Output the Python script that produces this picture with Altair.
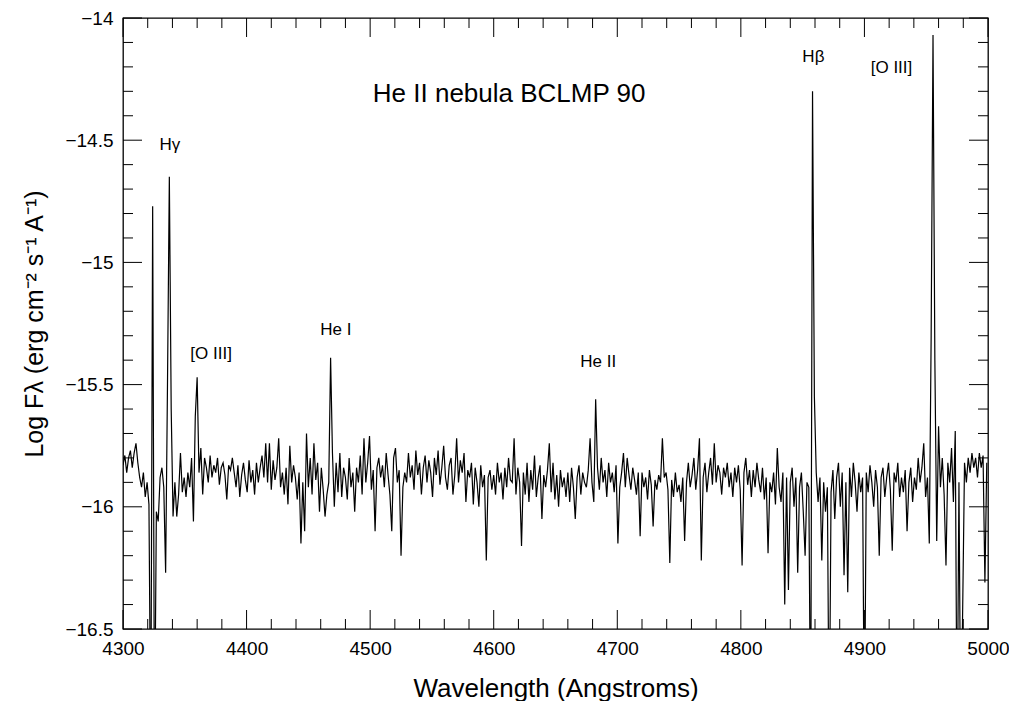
import altair as alt
import pandas as pd

WAVE_START = 4300.0
WAVE_STEP = 1.5
FLUX = [
    -15.83, -15.79, -15.86, -15.80, -15.77, -15.84, -15.78, -15.74, -15.82, -15.88,
    -15.92, -15.86, -15.96, -15.90, -15.99, -17.00, -14.77, -17.00, -16.02, -16.06,
    -15.88, -15.84, -15.92, -16.27, -15.50, -14.65, -15.60, -16.04, -15.90, -16.04,
    -15.95, -15.78, -15.94, -15.88, -15.96, -15.86, -15.92, -15.80, -16.06, -15.63,
    -15.47, -15.86, -15.76, -15.95, -15.80, -15.84, -15.90, -15.79, -15.88, -15.83,
    -15.86, -15.80, -15.91, -15.84, -15.82, -15.87, -15.97, -15.83, -15.85, -15.80,
    -15.86, -15.92, -15.83, -15.96, -15.87, -15.82, -15.89, -15.94, -15.81, -15.90,
    -15.85, -15.95, -15.82, -15.90, -15.84, -15.79, -15.88, -15.74, -15.90, -15.74,
    -15.93, -15.81, -15.89, -15.84, -15.72, -15.92, -15.86, -15.95, -15.84, -15.99,
    -15.75, -15.90, -15.83, -15.88, -15.97, -15.86, -16.15, -15.90, -16.10, -15.70,
    -15.92, -15.80, -15.95, -15.74, -15.89, -15.82, -16.02, -15.84, -15.93, -16.04,
    -15.95, -15.90, -15.39, -15.78, -16.00, -15.82, -15.94, -15.78, -15.96, -15.84,
    -15.88, -15.97, -15.80, -15.92, -15.86, -16.02, -15.84, -15.90, -15.79, -15.95,
    -15.72, -15.90, -15.82, -15.71, -15.93, -15.85, -16.10, -15.84, -15.80, -15.88,
    -15.83, -15.92, -15.78, -15.87, -15.95, -16.10, -15.80, -15.76, -15.90, -15.85,
    -16.20, -15.92, -15.86, -15.90, -15.78, -15.88, -15.83, -15.93, -15.77, -15.87,
    -15.82, -15.95, -15.84, -15.79, -15.90, -15.81, -15.86, -15.96, -15.80, -15.87,
    -15.77, -15.91, -15.84, -15.75, -15.88, -15.93, -15.83, -15.80, -15.95, -15.87,
    -15.72, -15.90, -15.81, -15.86, -15.78, -15.98, -15.85, -15.88, -15.82, -15.99,
    -15.84, -15.90, -16.00, -15.83, -15.92, -15.87, -16.22, -15.88, -15.85, -15.93,
    -15.87, -15.95, -15.82, -15.90, -15.86, -15.97, -15.84, -15.92, -15.80, -15.89,
    -15.90, -15.72, -15.95, -15.84, -15.90, -16.16, -15.86, -15.95, -15.82, -15.98,
    -15.85, -15.93, -15.79, -15.96, -15.88, -15.83, -16.05, -15.87, -15.92, -15.85,
    -15.74, -15.94, -15.82, -15.97, -15.87, -16.00, -15.85, -15.92, -15.88, -15.96,
    -15.86, -15.98, -15.84, -15.92, -16.05, -15.88, -15.83, -15.95, -15.86, -15.90,
    -15.92, -15.85, -15.72, -15.90, -15.98, -15.56, -15.84, -15.93, -15.80, -15.90,
    -15.85, -15.96, -15.82, -15.90, -15.86, -15.94, -15.83, -16.15, -15.92, -15.86,
    -15.78, -15.92, -15.80, -15.87, -15.93, -15.84, -15.89, -15.95, -15.86, -16.12,
    -15.86, -15.92, -15.88, -15.97, -15.85, -15.91, -16.08, -15.89, -15.93, -15.87,
    -15.90, -15.72, -15.88, -15.86, -15.93, -16.23, -15.89, -15.96, -15.86, -15.94,
    -15.91, -15.98, -15.88, -16.14, -15.90, -15.82, -15.92, -15.87, -15.80, -15.93,
    -15.85, -15.72, -16.22, -15.88, -15.82, -15.94, -15.86, -15.80, -15.91, -15.74,
    -15.90, -15.83, -15.86, -15.95, -15.84, -15.88, -15.82, -15.92, -15.86, -15.96,
    -15.84, -15.90, -15.83, -15.93, -16.24, -15.86, -15.80, -15.91, -15.85, -15.96,
    -15.85, -15.92, -15.82, -15.89, -15.94, -15.84, -15.97, -15.88, -16.19, -15.90,
    -15.94, -15.86, -15.99, -15.76, -15.92, -15.98, -15.86, -16.40, -15.88, -16.34,
    -15.90, -15.84, -16.00, -15.88, -16.27, -15.92, -15.86, -16.02, -16.20, -15.90,
    -15.92, -17.00, -14.30, -15.55, -15.86, -15.98, -15.88, -16.22, -15.90, -16.02,
    -15.92, -17.00, -15.94, -15.85, -16.05, -15.88, -15.82, -16.00, -15.86, -16.28,
    -15.90, -16.35, -15.84, -15.96, -15.82, -15.90, -16.02, -15.86, -15.94, -15.88,
    -17.00, -15.86, -15.94, -15.83, -15.90, -16.00, -15.85, -15.92, -16.20, -15.88,
    -15.84, -15.96, -15.88, -15.82, -15.93, -16.18, -15.86, -15.90, -15.82, -15.96,
    -15.88, -15.94, -15.85, -16.10, -15.90, -15.84, -15.98, -15.88, -15.93, -15.80,
    -15.90, -15.84, -15.74, -15.96, -15.88, -16.15, -15.30, -14.07, -15.40, -16.14,
    -15.67, -15.92, -15.80, -15.95, -16.24, -15.82, -15.90, -15.76, -15.98, -15.69,
    -17.00, -15.90, -17.00, -16.42, -15.82, -15.90, -15.80, -15.86, -15.78, -15.84,
    -15.80, -15.88, -15.78, -15.84, -15.79, -16.31, -15.82,
]
WAVE = [WAVE_START + WAVE_STEP * i for i in range(len(FLUX))]

X_MAJOR = [4300, 4400, 4500, 4600, 4700, 4800, 4900, 5000]
X_MINOR = [4320, 4340, 4360, 4380, 4420, 4440, 4460, 4480, 4520, 4540, 4560, 4580,
           4620, 4640, 4660, 4680, 4720, 4740, 4760, 4780, 4820, 4840, 4860, 4880,
           4920, 4940, 4960, 4980]
Y_MAJOR = [-16.5, -16.0, -15.5, -15.0, -14.5, -14.0]
Y_MINOR = [-16.4, -16.3, -16.2, -16.1, -15.9, -15.8, -15.7, -15.6, -15.4, -15.3,
           -15.2, -15.1, -14.9, -14.8, -14.7, -14.6, -14.4, -14.3, -14.2, -14.1]

LINE_LABELS = ["H\u03b3", "[O III]", "He I", "He II", "H\u03b2", "[O III]"]
LABEL_WAVE = [4337.9, 4371.3, 4472.2, 4684.6, 4858.7, 4921.9]
LABEL_FLUX = [-14.52, -15.373, -15.278, -15.406, -14.158, -14.206]

TITLE = ["He II nebula BCLMP 90"]
TITLE_WAVE = [4612.5]
TITLE_FLUX = [-14.309]

W, H = 865, 611
MAJ, MIN = 19, 10
FONT = "Liberation Sans"

spec = pd.DataFrame({"w": WAVE, "f": FLUX})
xmaj = pd.DataFrame({"w": X_MAJOR})
xmin = pd.DataFrame({"w": X_MINOR})
ymaj = pd.DataFrame({"f": Y_MAJOR})
ymin = pd.DataFrame({"f": Y_MINOR})
labels = pd.DataFrame({"w": LABEL_WAVE, "f": LABEL_FLUX, "t": LINE_LABELS})
title_df = pd.DataFrame({"w": TITLE_WAVE, "f": TITLE_FLUX, "t": TITLE})

xscale = alt.Scale(domain=[4300, 5000], nice=False, zero=False)
yscale = alt.Scale(domain=[-16.5, -14.0], nice=False, zero=False)

xaxis = alt.Axis(values=X_MAJOR, ticks=False, domain=False, grid=False,
                 labelFlush=False, labelFont=FONT, labelFontSize=19,
                 labelColor="black", labelPadding=10,
                 title="Wavelength (Angstroms)", titleFont=FONT,
                 titleFontSize=26, titleFontWeight="normal",
                 titleColor="black", titlePadding=17, format="d")
yaxis = alt.Axis(values=Y_MAJOR, ticks=False, domain=False, grid=False,
                 labelFont=FONT, labelFontSize=19, labelColor="black",
                 labelPadding=10, format="~g", labelFlush=False,
                 title="Log F\u03bb (erg cm\u207b\u00b2 s\u207b\u00b9 A\u207b\u00b9)",
                 titleFont=FONT, titleFontSize=25, titleFontWeight="normal",
                 titleColor="black", titlePadding=17)

X = alt.X("w:Q", scale=xscale, axis=xaxis)
Y = alt.Y("f:Q", scale=yscale, axis=yaxis)

line = alt.Chart(spec).mark_line(color="black", strokeWidth=1.2, clip=True).encode(x=X, y=Y)

def xticks(df, length):
    bottom = alt.Chart(df).mark_rule(color="black", strokeWidth=1).encode(
        x=X, y=alt.value(H), y2=alt.value(H - length))
    top = alt.Chart(df).mark_rule(color="black", strokeWidth=1).encode(
        x=X, y=alt.value(0), y2=alt.value(length))
    return [bottom, top]

def yticks(df, length):
    left = alt.Chart(df).mark_rule(color="black", strokeWidth=1).encode(
        y=Y, x=alt.value(0), x2=alt.value(length))
    right = alt.Chart(df).mark_rule(color="black", strokeWidth=1).encode(
        y=Y, x=alt.value(W), x2=alt.value(W - length))
    return [left, right]

ticks = xticks(xmaj, MAJ) + xticks(xmin, MIN) + yticks(ymaj, MAJ) + yticks(ymin, MIN)

label_text = alt.Chart(labels).mark_text(font=FONT, fontSize=17, color="black",
                                         align="center", baseline="middle").encode(
    x=X, y=Y, text="t:N")
title_text = alt.Chart(title_df).mark_text(font=FONT, fontSize=26, color="black",
                                           align="center", baseline="middle").encode(
    x=X, y=Y, text="t:N")

chart = alt.layer(line, *ticks, label_text, title_text).properties(
    width=W, height=H,
    autosize=alt.AutoSizeParams(type="none"),
    padding={"left": 115, "top": 10, "right": 21, "bottom": 72},
).configure_view(stroke="black", strokeWidth=1.3)

chart.save("out.html", embed_options={"renderer": "svg", "actions": False})
